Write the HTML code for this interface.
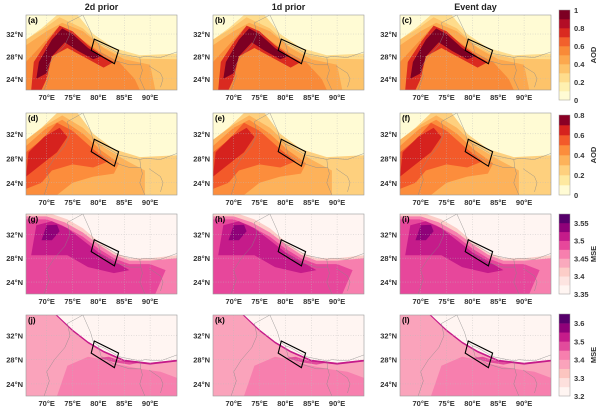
<!DOCTYPE html>
<html><head><meta charset="utf-8"><style>
html,body{margin:0;padding:0;background:#fff;}
svg{display:block;font-family:"Liberation Sans",sans-serif;}
</style></head><body>
<svg id="fig" width="600" height="413" viewBox="0 0 600 413"></svg>
<script>
// ---- data ----
const colTitles = ["2d prior","1d prior","Event day"];
const panelLetters = [["(a)","(b)","(c)"],["(d)","(e)","(f)"],["(g)","(h)","(i)"],["(j)","(k)","(l)"]];
const lonTicks = [70,75,80,85,90];
const latTicks = [24,28,32];
const cb1Ticks = ["0","0.2","0.4","0.6","0.8","1"];
const cb2Ticks = ["0","0.2","0.4","0.6","0.8"];
const cb3Ticks = ["3.35","3.4","3.45","3.5","3.55"];
const cb4Ticks = ["3.2","3.3","3.4","3.5","3.6"];
const cbLabels = ["AOD","AOD","MSE","MSE"];
const pal1 = ["#fffbd4","#fef0b0","#fedc8c","#fdc36a","#fca84e","#f98a38","#f2602c","#da2a20","#b30d26","#7d0023"];
const pal2 = ["#fffbd4","#fee9a0","#fed07e","#fdb25a","#fc8d3c","#f35a2a","#d6221e","#8a0025"];
const pal3 = ["#fff5f2","#fde4e1","#fccdc8","#faa9bd","#f77fae","#e7479b","#c51b8a","#8f0179","#56006b"];
const pal4 = ["#fff5f2","#fde0dd","#fcc5c0","#faa3bb","#f77fae","#e24b9c","#c51b8a","#8f0179","#56006b"];
// rows of layers: [level, polygon lon/lat]
const row1Layers = [
 [2,[[66,22],[66,31],[69,33],[72,35.4],[76,35.4],[79,32],[83,29.5],[88,28.2],[95.2,28.5],[95.2,22]]],
 [3,[[66,22],[66,31],[69.5,33],[72.5,35],[77,33],[80.5,30],[84,28.4],[88,27.6],[95.2,27.5],[95.2,22]]],
 [4,[[66,22],[66,30],[70,32.5],[73,34],[77,32.5],[81,29.5],[85,27.5],[90,26.5],[91,22]]],
 [5,[[66,22],[66,27],[69,30],[72,33],[76,31.5],[80,29],[84,27],[87,24],[88,22]]],
 [7,[[67,22],[67.5,27],[70,30.5],[72.5,33.5],[75,32.5],[78,30],[81,28],[83,27],[81,26],[77,28],[74,29.5],[71,28],[70,24],[69,22]]],
 [9,[[68,24],[68.5,27],[71,31],[73,33],[75,32],[78,29.5],[80.5,28],[79,27.5],[76,29],[73.5,30.5],[71,28],[70,25]]]
];
const row2Layers = [
 [2,[[66,22],[66,31],[69,33],[72,35.4],[76,35.4],[79,32],[83,29.5],[88,28.2],[95.2,28.5],[95.2,22]]],
 [3,[[66,22],[66,31],[70,33.5],[73,35],[77,33],[81,29.8],[85,27.8],[89,26],[89,22]]],
 [4,[[66,22],[66,30],[70,33],[73,34.3],[77,32],[80.5,29.3],[84,27.2],[83,25.5],[79,25],[75,24],[72,22]]],
 [5,[[66,23],[66,29],[69,31],[72,33.8],[75,32.5],[79,29.5],[82,27.5],[79,26.5],[75,27],[71,26],[69,24]]],
 [6,[[66,25],[66.5,29],[69.5,31.5],[72.5,33],[74,31.5],[72,29],[69,27]]]
];
const row3Layers = [
 [2,[[66,22],[66,35.4],[71,35.4],[74,34.5],[77,33],[80,30.8],[83,29],[86,28],[90,28],[95.2,28.5],[95.2,22]]],
 [4,[[66,22],[66,35],[70,35],[73.5,34],[77,32.3],[80,30.3],[83,28.6],[86,27.6],[90,27.6],[95.2,28],[95.2,22]]],
 [5,[[66,22],[66,34.5],[70,34.5],[73,33.5],[77,31.6],[80,29.6],[83,28],[86,27],[90,27],[93,26],[91,22]]],
 [6,[[67,28.5],[68,33.5],[71,34.2],[74,33],[77,31],[80,29],[84,27],[86,26],[83,25.5],[78,26.5],[74,28.5],[70,28.5]]],
 [7,[[69,31],[70,33.5],[72,33.6],[72.5,32.5],[71,31]]]
];
const row4Layers = [
 [3,[[66,22],[66,35.4],[72,35.4],[75,33],[78,31],[81,29.5],[85,28],[90,27.5],[95.2,28],[95.2,22]]],
 [4,[[72,22],[74,27],[78,28.5],[81,28],[84,27.2],[88,26.5],[92,26],[95.2,25],[95.2,22]]],
 [5,[[80,28.3],[82,28.5],[84,27.9],[86,27.6],[88,27.5],[86,27.2],[83,27.6]]],
 [6,[[72,35.4],[75,33],[78,31],[81,29.5],[85,28],[90,27.5],[95.2,28],[95.2,27.7],[90,27.2],[85,27.7],[81,29.2],[78,30.7],[75,32.7],[71.7,35.4]]]
];
const rowsPal = [pal1,pal2,pal3,pal4];
const rowsLayers = [row1Layers,row2Layers,row3Layers,row4Layers];
const rowsBg = [0,0,0,0];
const boxCorners = [[79.2,31.1],[83.9,29.1],[83.1,26.7],[78.6,29.1]];
const borders = [
 [[69.5,22],[70.5,24.5],[70,26],[71.5,28],[73.5,30],[74.5,32],[74,34],[77,35.4]],
 [[80,30.3],[81,30],[84,28.5],[88,27.8],[88.2,26.5],[86,26.5],[83,27.3],[80.5,28.6],[80,30.3]],
 [[88.2,26.5],[88.5,25.5],[88,24],[89,22]],
 [[89.8,26.3],[92,25],[92.5,24],[92,22.5]],
 [[77,35.4],[78.5,32.5],[79,31],[80,30.3]],
 [[88,27.8],[89,28],[92,27.8],[95.2,28.8]]
];
// ---- layout ----
const colX = [26,213,400], mapW = 151;
const rowY = [[15,90],[113,195],[214,294],[315,396]];
const cbY = [[10,100],[115,195],[214,294],[314,396]];
const LON0=66, LON1=95.2, LAT0=22, LAT1=35.4;
const NS="http://www.w3.org/2000/svg";
const svg=document.getElementById('fig');
function mk(tag,attrs,parent){const e=document.createElementNS(NS,tag);for(const k in attrs)e.setAttribute(k,attrs[k]);(parent||svg).appendChild(e);return e;}
function xs(lon,c){return colX[c]+(lon-LON0)/(LON1-LON0)*mapW;}
function ys(lat,r){const [t,b]=rowY[r];return b-(lat-LAT0)/(LAT1-LAT0)*(b-t);}
function pts(poly,r,c){return poly.map(p=>xs(p[0],c).toFixed(1)+","+ys(p[1],r).toFixed(1)).join(" ");}

colTitles.forEach((t,c)=>{
 const e=mk('text',{x:colX[c]+mapW/2,y:10,'text-anchor':'middle','font-size':'9','font-weight':'bold',fill:'#222'});
 
 
 e.textContent=t;
});
for(let r=0;r<4;r++){
 const pal=rowsPal[r];
 for(let c=0;c<3;c++){
  const g=mk('g',{});
  
  
  const cid='clip'+r+c;
  const cp=mk('clipPath',{id:cid},g);
  mk('rect',{x:colX[c],y:rowY[r][0],width:mapW,height:rowY[r][1]-rowY[r][0]},cp);
  const inner=mk('g',{'clip-path':'url(#'+cid+')'},g);
  mk('rect',{x:colX[c],y:rowY[r][0],width:mapW,height:rowY[r][1]-rowY[r][0],fill:pal[rowsBg[r]]},inner);
  rowsLayers[r].forEach(([lv,poly])=>{
   const p=mk('polygon',{points:pts(poly,r,c),fill:pal[Math.min(lv,pal.length-1)]},inner);
   
   
  });
  lonTicks.forEach(l=>mk('line',{x1:xs(l,c),x2:xs(l,c),y1:rowY[r][0],y2:rowY[r][1],stroke:'#bbb','stroke-width':0.4,'stroke-dasharray':'1,1.5'},inner));
  latTicks.forEach(l=>mk('line',{x1:colX[c],x2:colX[c]+mapW,y1:ys(l,r),y2:ys(l,r),stroke:'#bbb','stroke-width':0.4,'stroke-dasharray':'1,1.5'},inner));
  borders.forEach(b=>mk('polyline',{points:pts(b,r,c),fill:'none',stroke:'#888','stroke-width':0.4},inner));
  const bx=mk('polygon',{points:pts(boxCorners,r,c),fill:'none',stroke:'#000','stroke-width':1.1},g);
  
  
  mk('rect',{x:colX[c],y:rowY[r][0],width:mapW,height:rowY[r][1]-rowY[r][0],fill:'none',stroke:'#999','stroke-width':0.6},g);
  const lt=mk('text',{x:colX[c]+2,y:rowY[r][0]+8,'font-size':'8','font-weight':'bold',fill:'#000'},g);
  
  
  lt.textContent=panelLetters[r][c];
  lonTicks.forEach(l=>{
   const t=mk('text',{x:xs(l,c),y:rowY[r][1]+10,'text-anchor':'middle','font-size':'7.5','font-weight':'bold',fill:'#333'},g);
   
   
   t.textContent=l+'°E';
  });
  latTicks.forEach(l=>{
   const t=mk('text',{x:colX[c]-3,y:ys(l,r)+3,'text-anchor':'end','font-size':'7.5','font-weight':'bold',fill:'#333'},g);
   
   
   t.textContent=l+'°N';
  });
 }
 const cb=mk('g',{});
 
 
 const [ct,cbt]=cbY[r], n=pal.length, h=(cbt-ct)/n;
 pal.forEach((col,i)=>mk('rect',{x:559,y:cbt-(i+1)*h,width:11,height:h+0.3,fill:col},cb));
 mk('rect',{x:559,y:ct,width:11,height:cbt-ct,fill:'none',stroke:'#999','stroke-width':0.5},cb);
 const ticks=[cb1Ticks,cb2Ticks,cb3Ticks,cb4Ticks][r];
 ticks.forEach((t,i)=>{
  const yy=cbt-i*2*h;
  const e=mk('text',{x:574,y:yy+3,'font-size':'7.5','font-weight':'bold',fill:'#333'},cb);
  
  
  e.textContent=t;
 });
 const cy=(ct+cbt)/2;
 const lab=mk('text',{x:596,y:cy,'text-anchor':'middle','font-size':'7.5','font-weight':'bold',fill:'#333',transform:'rotate(-90 596 '+cy+')'},cb);
 
 
 lab.textContent=cbLabels[r];
}
</script>
</body></html>
